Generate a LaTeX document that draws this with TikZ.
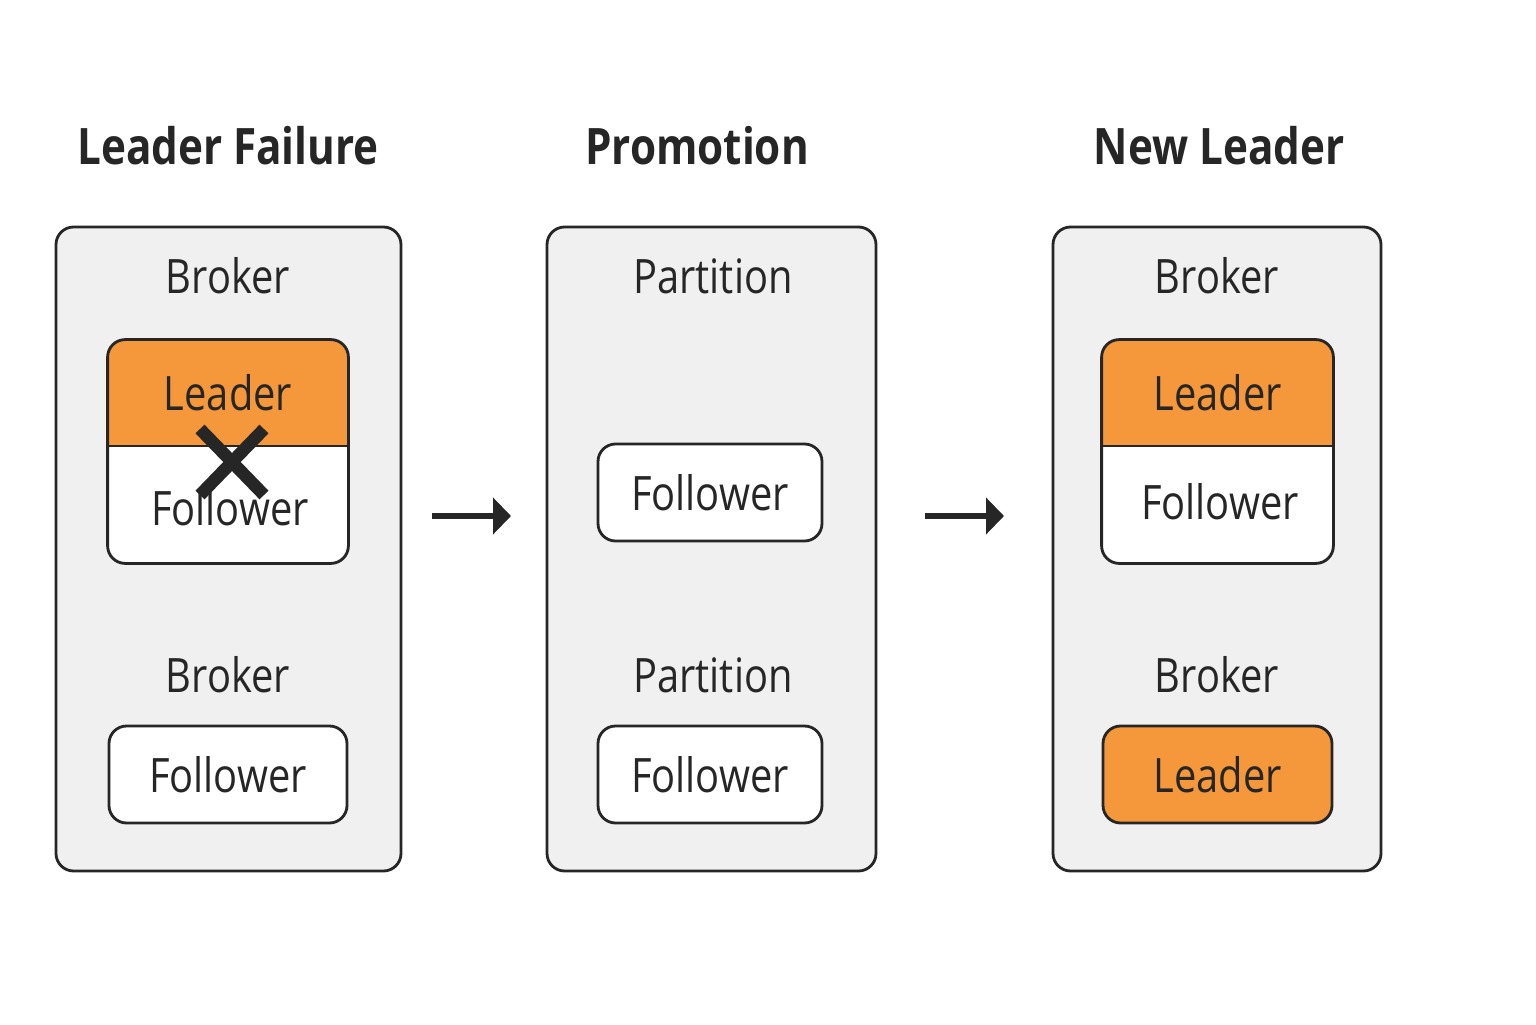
\documentclass[tikz,border=0pt]{standalone}
\usepackage{fontspec}
\setmainfont{Open Sans}[FakeStretch=0.84]
\usepackage{xcolor}
\usetikzlibrary{arrows.meta}
\definecolor{panelgray}{HTML}{F0F0F0}
\definecolor{leadorange}{HTML}{F5983C}
\definecolor{inkdark}{HTML}{262626}

\begin{document}
\begin{tikzpicture}[
        panel/.style={draw=inkdark, line width=0.8pt, fill=panelgray, rounded corners=5pt, minimum height=6.44cm},
        rbox/.style={draw=inkdark, line width=0.8pt, rounded corners=5pt, minimum height=0.97cm, font=\fontsize{13.5}{16}\selectfont, text=inkdark},
        label/.style={font=\fontsize{13.5}{16}\selectfont, text=inkdark},
        heading/.style={font=\fontsize{14.3}{17}\selectfont\bfseries, text=inkdark},
        flow/.style={-{Triangle[length=0.18cm, width=0.36cm]}, line width=0.065cm, draw=inkdark}
    ]
    \useasboundingbox[fill=white] (0, 0) rectangle (15.36, 10.24);

    \node[heading] (T1) at (2.28, 8.78) {Leader Failure};
    \node[heading] (T2) at (6.97, 8.78) {Promotion};
    \node[heading] (T3) at (12.19, 8.78) {New Leader};

    \node[panel, minimum width=3.45cm] (P1) at (2.285, 4.75) {};
    \node[panel, minimum width=3.29cm] (P2) at (7.115, 4.75) {};
    \node[panel, minimum width=3.28cm] (P3) at (12.17, 4.75) {};

    % first panel
    \node[label] (B1) at (2.28, 7.48) {Broker};
    \node[rbox, draw=none, fill=white, minimum width=2.38cm, minimum height=2.21cm] (S1) at (2.28, 5.725) {};
    \begin{scope}
        \clip[rounded corners=5pt] (S1.south west) rectangle (S1.north east);
        \fill[leadorange] (S1.north west) rectangle (3.47, 5.78);
    \end{scope}
    \draw[line width=0.8pt, inkdark, rounded corners=5pt] (S1.south west) rectangle (S1.north east);
    \draw[line width=0.8pt, inkdark] (1.09, 5.78) -- (3.47, 5.78);
    \node[label] (L1) at (2.28, 6.31) {Leader};
    \node[label] (F1) at (2.30, 5.16) {Follower};
    \draw[line width=0.125cm, inkdark] (2.00, 5.95) -- (2.64, 5.29);
    \draw[line width=0.125cm, inkdark] (2.00, 5.29) -- (2.64, 5.95);

    \node[label] (B2) at (2.28, 3.49) {Broker};
    \node[rbox, fill=white, minimum width=2.38cm] (F2) at (2.28, 2.495) {Follower};

    % second panel
    \node[label] (Q1) at (7.13, 7.48) {Partition};
    \node[rbox, fill=white, minimum width=2.24cm] (F3) at (7.10, 5.315) {Follower};
    \node[label] (Q2) at (7.13, 3.49) {Partition};
    \node[rbox, fill=white, minimum width=2.24cm] (F4) at (7.10, 2.495) {Follower};

    % third panel
    \node[label] (B3) at (12.17, 7.48) {Broker};
    \node[rbox, draw=none, fill=white, minimum width=2.29cm, minimum height=2.21cm] (S3) at (12.175, 5.725) {};
    \begin{scope}
        \clip[rounded corners=5pt] (S3.south west) rectangle (S3.north east);
        \fill[leadorange] (S3.north west) rectangle (13.32, 5.78);
    \end{scope}
    \draw[line width=0.8pt, inkdark, rounded corners=5pt] (S3.south west) rectangle (S3.north east);
    \draw[line width=0.8pt, inkdark] (11.03, 5.78) -- (13.32, 5.78);
    \node[label] (L3) at (12.175, 6.31) {Leader};
    \node[label] (F5) at (12.20, 5.22) {Follower};

    \node[label] (B4) at (12.17, 3.49) {Broker};
    \node[rbox, fill=leadorange, minimum width=2.29cm] (L4) at (12.175, 2.495) {Leader};

    \coordinate (A1) at (4.32, 5.08);
    \coordinate (A2) at (5.11, 5.08);
    \coordinate (A3) at (9.25, 5.08);
    \coordinate (A4) at (10.04, 5.08);
    \draw[flow] (A1) -- (A2);
    \draw[flow] (A3) -- (A4);
\end{tikzpicture}
\end{document}
